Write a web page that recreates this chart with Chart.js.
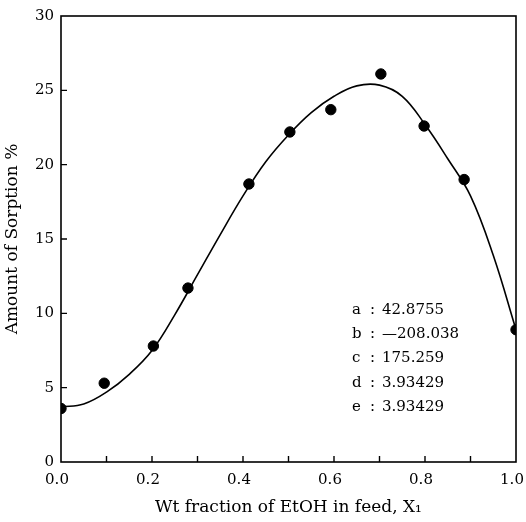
<!DOCTYPE html>
<html>
<head>
<meta charset="utf-8">
<script src="https://cdn.jsdelivr.net/npm/chart.js@4.4.2/dist/chart.umd.min.js"></script>
<style>
  html, body { margin: 0; padding: 0; background: #fff; }
  canvas { display: block; }
</style>
</head>
<body>
<canvas id="chart" width="526" height="522"></canvas>
<script>
// measured points
const xPoints = [0, 0.095, 0.203, 0.279, 0.413, 0.503, 0.593, 0.703, 0.798, 0.886, 1.0];
const yPoints = [3.6, 5.3, 7.8, 11.7, 18.7, 22.2, 23.7, 26.1, 22.6, 19.0, 8.9];

// fitted curve
const xCurve = [0, 0.05, 0.1, 0.15, 0.2, 0.25, 0.3, 0.35, 0.4, 0.45, 0.5, 0.55, 0.6, 0.65, 0.7, 0.75, 0.8, 0.85, 0.9, 0.95, 1.0];
const yCurve = [3.7, 3.9, 4.7, 5.9, 7.5, 9.9, 12.6, 15.3, 17.9, 20.2, 22.0, 23.5, 24.6, 25.3, 25.35, 24.6, 22.7, 20.4, 17.9, 13.9, 8.9];

const xTickLabels = ['0.0', '0.2', '0.4', '0.6', '0.8', '1.0'];
const yTickLabels = ['0', '5', '10', '15', '20', '25', '30'];
const xMarks = [0.1, 0.2, 0.3, 0.4, 0.5, 0.6, 0.7, 0.8, 0.9];
const yMarks = [5, 10, 15, 20, 25];

const paramNames = ['a', 'b', 'c', 'd', 'e'];
const paramValues = ['42.8755', '\u2014208.038', '175.259', '3.93429', '3.93429'];

const FONT = "'DejaVu Serif', serif";

const frame = {
  id: 'frame',
  afterDatasetsDraw(chart) {
    const { ctx, chartArea: a, scales: { x, y } } = chart;
    ctx.save();
    ctx.strokeStyle = '#000';
    ctx.lineWidth = 1.6;
    ctx.strokeRect(a.left, a.top, a.right - a.left, a.bottom - a.top);
    ctx.lineWidth = 1.4;
    ctx.beginPath();
    xMarks.forEach(v => {
      const px = x.getPixelForValue(v);
      ctx.moveTo(px, a.bottom);
      ctx.lineTo(px, a.bottom - 6);
    });
    yMarks.forEach(v => {
      const py = y.getPixelForValue(v);
      ctx.moveTo(a.left, py);
      ctx.lineTo(a.left + 6, py);
    });
    ctx.stroke();

    // fit parameters
    ctx.fillStyle = '#000';
    ctx.font = '15px ' + FONT;
    ctx.textBaseline = 'middle';
    paramNames.forEach((n, i) => {
      const ty = 310 + i * 24.3;
      ctx.textAlign = 'left';
      ctx.fillText(n, 352, ty);
      ctx.fillText(':', 370, ty);
      ctx.fillText(paramValues[i], 382, ty);
    });
    ctx.restore();
  }
};

new Chart(document.getElementById('chart'), {
  type: 'scatter',
  data: {
    datasets: [{
      data: xPoints.map((v, i) => ({ x: v, y: yPoints[i] })),
      backgroundColor: '#000',
      borderColor: '#000',
      pointRadius: 5.2,
      pointHoverRadius: 5.2
    }, {
      data: xCurve.map((v, i) => ({ x: v, y: yCurve[i] })),
      showLine: true,
      borderColor: '#000',
      borderWidth: 1.6,
      pointRadius: 0,
      tension: 0.4
    }]
  },
  options: {
    responsive: false,
    animation: false,
    events: [],
    layout: {
      padding: { top: 14, right: 10, left: 0, bottom: 0 }
    },
    plugins: {
      legend: { display: false },
      tooltip: { enabled: false }
    },
    scales: {
      x: {
        type: 'linear',
        min: 0,
        max: 1,
        grid: { display: false, drawTicks: false },
        border: { display: false },
        ticks: {
          stepSize: 0.2,
          padding: 9,
          labelOffset: -4,
          color: '#000',
          font: { family: FONT, size: 15 },
          callback: (v) => xTickLabels[Math.round(v * 5)]
        },
        title: {
          display: true,
          text: 'Wt fraction of EtOH in feed, X\u2081',
          color: '#000',
          font: { family: FONT, size: 17 },
          padding: { top: 4, bottom: 4 }
        },
        afterFit: (s) => { s.height = 60; s.paddingLeft = 0; s.paddingRight = 0; }
      },
      y: {
        min: 0,
        max: 30,
        grid: { display: false, drawTicks: false },
        border: { display: false },
        ticks: {
          stepSize: 5,
          padding: 7,
          color: '#000',
          font: { family: FONT, size: 15 },
          callback: (v) => yTickLabels[v / 5]
        },
        title: {
          display: true,
          text: 'Amount of Sorption %',
          color: '#000',
          font: { family: FONT, size: 17 },
          padding: { top: 2, bottom: 0 }
        },
        afterFit: (s) => { s.width = 61; }
      }
    }
  },
  plugins: [frame]
});
</script>
</body>
</html>
